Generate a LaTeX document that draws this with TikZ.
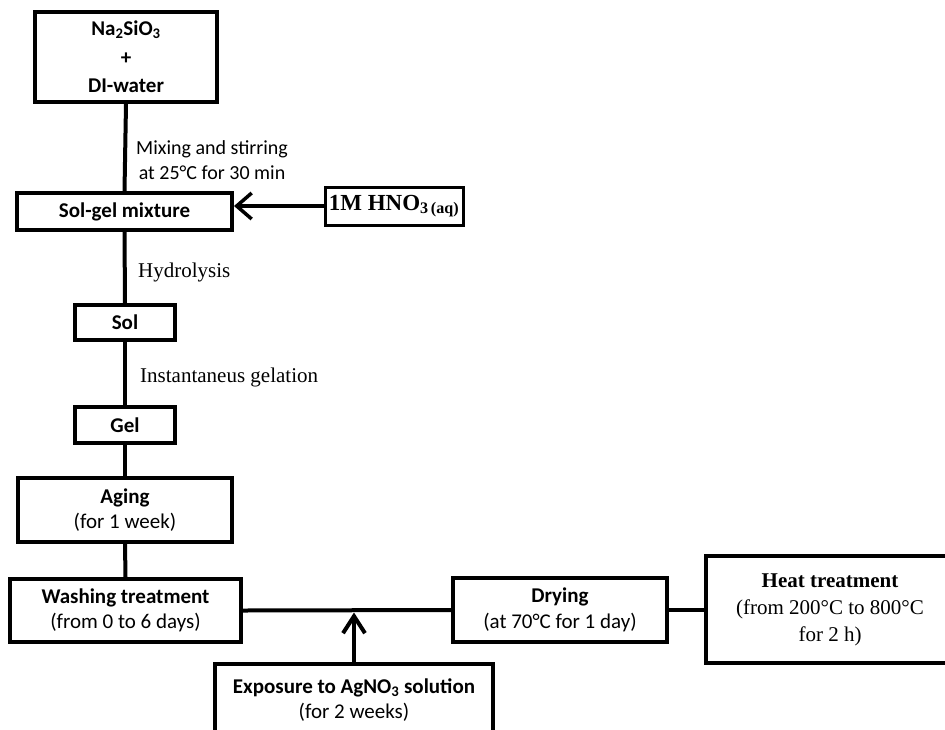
\documentclass[tikz,border=0pt]{standalone}
\usepackage{fontspec}
\setmainfont{Carlito}
\newfontfamily\serifff{Liberation Serif}
\usetikzlibrary{arrows.meta}
\tikzset{
  box/.style={draw, line width=4pt, inner sep=0pt, align=center, font=\fontsize{21}{25.5}\selectfont},
  sbox/.style={draw, line width=3pt, inner sep=0pt, align=center, font=\serifff\bfseries\fontsize{23}{26}\selectfont},
  hbox/.style={draw, line width=4pt, inner sep=0pt, align=center, font=\serifff\fontsize{21}{27}\selectfont},
  conn/.style={line width=4pt},
  arr/.style={line width=3.5pt, -{Straight Barb[length=15pt,width=26pt]}},
  lbl/.style={inner sep=0pt, align=center, font=\fontsize{20}{25}\selectfont},
  slbl/.style={inner sep=0pt, font=\serifff\fontsize{21}{25}\selectfont}
}
\begin{document}
\begin{tikzpicture}[x=1pt,y=-1pt]
\useasboundingbox (0,0) rectangle (945,729);
\clip (0,0) rectangle (945,729);
\fill[white] (0,0) rectangle (945,729);
\node[box, minimum width=182pt, minimum height=90pt] (na) at (126,57)
  {\textbf{Na\textsubscript{2}SiO\textsubscript{3}}\\[3pt] \textbf{+}\\[3pt] \textbf{DI-water}};
\node[box, minimum width=215pt, minimum height=37pt] (sg) at (124.5,211.5) {\textbf{Sol-gel mixture}};
\node[sbox, minimum width=138pt, minimum height=38pt] (hno) at (394,206) {1M HNO\textsubscript{3\,(aq)}};
\node[box, minimum width=100pt, minimum height=35pt] (sol) at (125,322.5) {\textbf{Sol}};
\node[box, minimum width=100pt, minimum height=36pt] (gel) at (125,425) {\textbf{Gel}};
\node[box, minimum width=214pt, minimum height=64pt] (aging) at (125,510) {\textbf{Aging}\\(for 1 week)};
\node[box, minimum width=231pt, minimum height=63pt] (wash) at (125.5,610.5) {\textbf{Washing treatment}\\(from 0 to 6 days)};
\node[box, minimum width=214pt, minimum height=64pt] (dry) at (560,610) {\textbf{Drying}\\(at 70°C for 1 day)};
\node[hbox, minimum width=248pt, minimum height=107pt] (heat) at (830,609.5) {\textbf{Heat treatment}\\(from 200°C to 800°C\\for 2 h)};
\node[box, minimum width=278pt, minimum height=72pt] (expo) at (354,700) {\textbf{Exposure to AgNO\textsubscript{3} solution}\\(for 2 weeks)};

\node[lbl, anchor=west] (mix) at (136,160) {Mixing and stirring\\at 25°C for 30 min};
\node[slbl, anchor=west] (hyd) at (138,272) {Hydrolysis};
\node[slbl, anchor=west] (gelation) at (140,377) {Instantaneus gelation};

\draw[conn] (na.south) -- (sg.north);
\draw[conn] (sg.south) -- (sol.north);
\draw[conn] (sol.south) -- (gel.north);
\draw[conn] (gel.south) -- (aging.north);
\draw[conn] (aging.south) -- (wash.north);
\coordinate (j) at (354,610.5);
\draw[conn] (wash.east) -- (dry.west);
\draw[conn] (dry.east) -- (heat.west |- dry.east);
\draw[arr] (hno.west) -- (sg.east |- hno.west);
\draw[line width=4pt, -{Straight Barb[length=17pt,width=22pt]}] (expo.north) -- ([yshift=-2pt]j);
\end{tikzpicture}
\end{document}
